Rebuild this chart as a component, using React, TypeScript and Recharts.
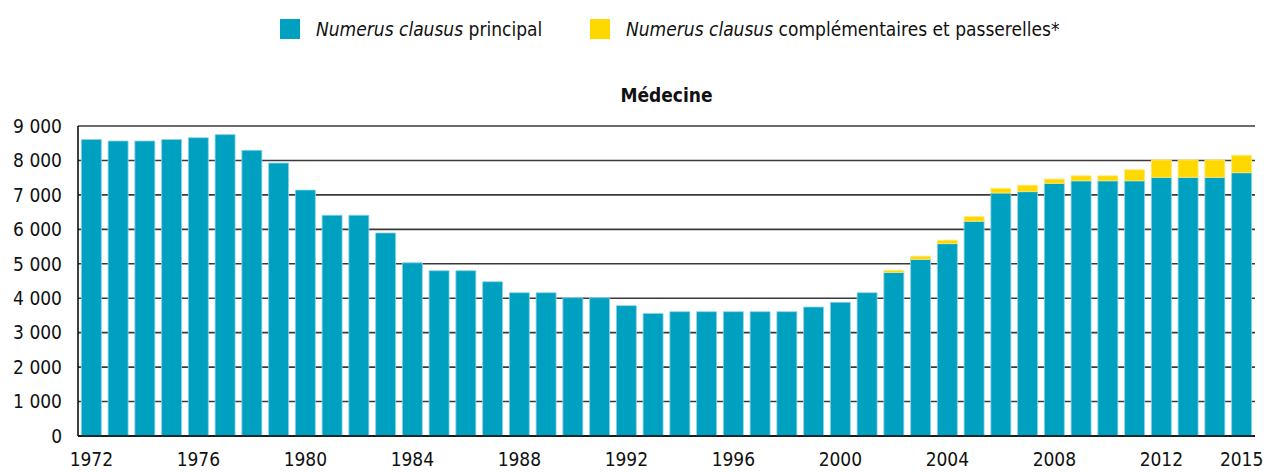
import React from 'react';
import { BarChart, Bar, XAxis, YAxis, CartesianGrid } from 'recharts';

// Numerus clausus, médecine, 1972-2015
const years = [
  '1972', '1973', '1974', '1975', '1976', '1977', '1978', '1979', '1980', '1981', '1982',
  '1983', '1984', '1985', '1986', '1987', '1988', '1989', '1990', '1991', '1992', '1993',
  '1994', '1995', '1996', '1997', '1998', '1999', '2000', '2001', '2002', '2003', '2004',
  '2005', '2006', '2007', '2008', '2009', '2010', '2011', '2012', '2013', '2014', '2015',
];

const principal = [
  8610, 8565, 8565, 8610, 8660, 8750, 8295, 7925, 7140, 6410, 6410,
  5895, 5030, 4800, 4800, 4480, 4160, 4160, 4015, 4015, 3785, 3560,
  3610, 3610, 3610, 3610, 3610, 3745, 3880, 4160, 4750, 5130, 5585,
  6235, 7055, 7095, 7335, 7410, 7410, 7410, 7510, 7510, 7510, 7645,
];

const complementaires = [
  0, 0, 0, 0, 0, 0, 0, 0, 0, 0, 0,
  0, 0, 0, 0, 0, 0, 0, 0, 0, 0, 0,
  0, 0, 0, 0, 0, 0, 0, 0, 60, 90, 100,
  135, 135, 185, 125, 145, 145, 320, 505, 505, 505, 505,
];

const xTickLabels = ['1972', '1976', '1980', '1984', '1988', '1992', '1996', '2000', '2004', '2008', '2012', '2015'];
const yTicks = [0, 1000, 2000, 3000, 4000, 5000, 6000, 7000, 8000, 9000];

const TEAL = '#00a0c1';
const YELLOW = '#ffd800';
const FONT = "'DejaVu Sans Condensed', 'Liberation Sans Narrow', 'DejaVu Sans', sans-serif";

const data = years.map((y, i) => ({
  year: y,
  idx: i + 0.5,
  principal: principal[i],
  comp: complementaires[i],
}));

// tick marks sit on the category boundaries
const boundaryTicks = years.map((_, i) => i).concat([years.length]);

const formatThousands = (v: number) =>
  v >= 1000 ? `${Math.floor(v / 1000)} ${String(v % 1000).padStart(3, '0')}` : String(v);

const LegendItem: React.FC<{ color: string; left: number; rest: string }> = ({ color, left, rest }) => (
  <div style={{ position: 'absolute', left, top: 17, display: 'flex', alignItems: 'center', whiteSpace: 'nowrap' }}>
    <span style={{ width: 20, height: 20, background: color, display: 'inline-block', marginRight: 16 }} />
    <span style={{ fontSize: 19, color: '#111', lineHeight: '24px' }}>
      <i>Numerus clausus</i> {rest}
    </span>
  </div>
);

const App: React.FC = () => {
  return (
    <div style={{ position: 'absolute', left: 0, top: 0, width: 1266, height: 472, background: '#fff', fontFamily: FONT, fontStretch: 'condensed' }}>
      <LegendItem color={TEAL} left={280} rest="principal" />
      <LegendItem color={YELLOW} left={590} rest="complémentaires et passerelles*" />
      <div style={{ position: 'absolute', left: 78, width: 1177, top: 84, textAlign: 'center', fontSize: 19, fontWeight: 'bold', color: '#111' }}>
        Médecine
      </div>
      <BarChart
        width={1266}
        height={472}
        data={data}
        margin={{ top: 126, right: 11, bottom: 0, left: 0 }}
        barCategoryGap="12.5%"
      >
        <CartesianGrid vertical={false} stroke="#3a3a3a" strokeWidth={1.6} yAxisId="y" xAxisId="cat" />
        <XAxis
          xAxisId="ticks"
          type="number"
          dataKey="idx"
          domain={[0, years.length]}
          ticks={boundaryTicks}
          allowDataOverflow
          tickFormatter={() => ''}
          tickLine={{ stroke: '#000', strokeWidth: 1 }}
          tickSize={6}
          axisLine={false}
          height={0}
        />
        <XAxis
          xAxisId="cat"
          dataKey="year"
          interval={0}
          tickFormatter={(v: string) => (xTickLabels.includes(v) ? v : '')}
          tickLine={false}
          tickSize={0}
          tickMargin={17}
          axisLine={{ stroke: '#000', strokeWidth: 1.5 }}
          tick={{ fill: '#111', fontSize: 19, fontFamily: FONT }}
          height={36}
        />
        <YAxis
          yAxisId="y"
          domain={[0, 9000]}
          ticks={yTicks}
          interval={0}
          tickFormatter={(v: number) => formatThousands(v)}
          tickLine={false}
          tickSize={0}
          tickMargin={16}
          axisLine={{ stroke: '#000', strokeWidth: 1.5 }}
          tick={{ fill: '#111', fontSize: 19, fontFamily: FONT }}
          width={78}
        />
        <Bar
          xAxisId="cat"
          yAxisId="y"
          dataKey="principal"
          stackId="nc"
          fill={TEAL}
          stroke="#8fd4e4"
          strokeWidth={0.8}
          isAnimationActive={false}
        />
        <Bar
          xAxisId="cat"
          yAxisId="y"
          dataKey="comp"
          stackId="nc"
          fill={YELLOW}
          stroke="#ffe97a"
          strokeWidth={0.8}
          isAnimationActive={false}
        />
      </BarChart>
    </div>
  );
};

export default App;
